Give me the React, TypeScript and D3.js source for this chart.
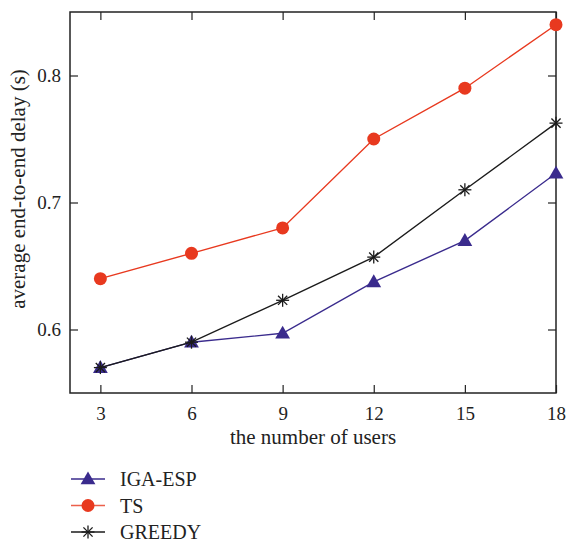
import { useEffect, useRef } from 'react';
import * as d3 from 'd3';

const users = [3, 6, 9, 12, 15, 18];
const igaEsp = [0.57, 0.59, 0.597, 0.6375, 0.67, 0.723];
const ts = [0.64, 0.66, 0.68, 0.75, 0.79, 0.84];
const greedy = [0.57, 0.59, 0.623, 0.657, 0.71, 0.7625];
const yTicks = [0.6, 0.7, 0.8];

const series = [
  { name: 'IGA-ESP', values: igaEsp, color: '#3a2b8d', marker: 'triangle' },
  { name: 'TS', values: ts, color: '#e8391f', marker: 'circle' },
  { name: 'GREEDY', values: greedy, color: '#1b1b1b', marker: 'star' }
];

const FONT = '"Liberation Serif", "Times New Roman", serif';

export default function App() {
  const svgRef = useRef<SVGSVGElement>(null);

  useEffect(() => {
    if (!svgRef.current) return;
    const svg = d3.select(svgRef.current);
    svg.selectAll('*').remove();

    const margin = { top: 12, right: 11, bottom: 151, left: 70 };
    const width = 567;
    const height = 544;
    const innerWidth = width - margin.left - margin.right;
    const innerHeight = height - margin.top - margin.bottom;

    const x = d3.scaleLinear().domain([2, 18]).range([0, innerWidth]);
    const y = d3.scaleLinear().domain([0.55, 0.85]).range([innerHeight, 0]);

    const g = svg.append('g').attr('transform', `translate(${margin.left},${margin.top})`);

    // Axes (ticks pointing inward, mirrored box)
    const styleAxis = (sel: any) => {
      sel.select('.domain').remove();
      sel.selectAll('line').attr('stroke', '#222').attr('stroke-width', 1.2);
      sel.selectAll('text')
        .attr('fill', '#222')
        .attr('font-family', FONT)
        .attr('font-size', '19px');
    };

    g.append('g')
      .attr('transform', `translate(0,${innerHeight})`)
      .call(d3.axisBottom(x).tickValues(users).tickSize(-8).tickPadding(14).tickFormat(d3.format('d')))
      .call(styleAxis);

    g.append('g')
      .call(d3.axisTop(x).tickValues(users).tickSize(-8).tickFormat(() => ''))
      .call(styleAxis);

    g.append('g')
      .call(d3.axisLeft(y).tickValues(yTicks).tickSize(-8).tickPadding(9).tickFormat(d3.format('.1f')))
      .call(styleAxis);

    g.append('g')
      .attr('transform', `translate(${innerWidth},0)`)
      .call(d3.axisRight(y).tickValues(yTicks).tickSize(-8).tickFormat(() => ''))
      .call(styleAxis);

    g.append('rect')
      .attr('width', innerWidth)
      .attr('height', innerHeight)
      .attr('fill', 'none')
      .attr('stroke', '#222')
      .attr('stroke-width', 1.5);

    const drawMarker = (sel: any, marker: string, color: string, cx: number, cy: number) => {
      if (marker === 'circle') {
        sel.append('circle').attr('cx', cx).attr('cy', cy).attr('r', 6.5).attr('fill', color);
      } else if (marker === 'triangle') {
        sel.append('path')
          .attr('d', d3.symbol(d3.symbolTriangle, 95)())
          .attr('transform', `translate(${cx},${cy + 1})`)
          .attr('fill', color);
      } else {
        const r = 6.5;
        const star = sel.append('g').attr('transform', `translate(${cx},${cy})`);
        [0, 45, 90, 135].forEach(a => {
          const rad = (a * Math.PI) / 180;
          star.append('line')
            .attr('x1', -r * Math.cos(rad)).attr('y1', -r * Math.sin(rad))
            .attr('x2', r * Math.cos(rad)).attr('y2', r * Math.sin(rad))
            .attr('stroke', color).attr('stroke-width', 1.3);
        });
      }
    };

    const line = d3.line<number>()
      .x((_, i) => x(users[i]))
      .y(d => y(d));

    series.forEach(s => {
      g.append('path')
        .datum(s.values)
        .attr('fill', 'none')
        .attr('stroke', s.color)
        .attr('stroke-width', 1.4)
        .attr('d', line);
      s.values.forEach((v, i) => drawMarker(g, s.marker, s.color, x(users[i]), y(v)));
    });

    // Axis labels
    g.append('text')
      .attr('x', innerWidth / 2)
      .attr('y', innerHeight + 51)
      .attr('text-anchor', 'middle')
      .attr('font-family', FONT)
      .attr('font-size', '21px')
      .attr('fill', '#222')
      .text('the number of users');

    g.append('text')
      .attr('transform', 'rotate(-90)')
      .attr('x', -(189 - margin.top))
      .attr('y', -45)
      .attr('text-anchor', 'middle')
      .attr('font-family', FONT)
      .attr('font-size', '21px')
      .attr('fill', '#222')
      .text('average end-to-end delay (s)');

    // Legend
    const legend = svg.append('g').attr('transform', 'translate(71,479)');
    series.forEach((s, i) => {
      const row = legend.append('g').attr('transform', `translate(0,${i * 26.5})`);
      row.append('line')
        .attr('x1', 0).attr('x2', 34).attr('y1', 0).attr('y2', 0)
        .attr('stroke', s.color).attr('stroke-width', 1.4)
        .attr('opacity', s.marker === 'circle' ? 0.8 : 1);
      drawMarker(row, s.marker, s.color, 17, 0);
      row.append('text')
        .attr('x', 49)
        .attr('y', 7)
        .attr('font-family', FONT)
        .attr('font-size', '20px')
        .attr('fill', '#222')
        .text(s.name);
    });
  }, []);

  return (
    <svg ref={svgRef} width={567} height={544} style={{ position: 'absolute', left: 0, top: 0, background: '#fff' }} />
  );
}
